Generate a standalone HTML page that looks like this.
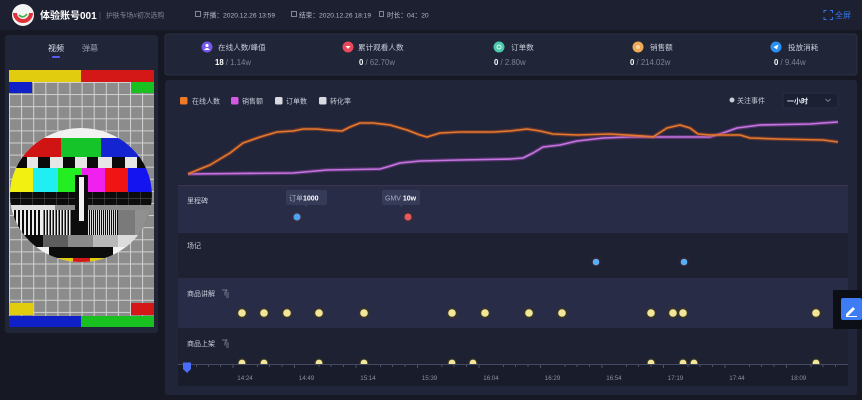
<!DOCTYPE html>
<html><head><meta charset="utf-8">
<style>
html,body{margin:0;padding:0;background:#161924;width:862px;height:400px;overflow:hidden}
svg{display:block}
text{font-family:"Liberation Sans","Noto Sans CJK SC",sans-serif}
</style></head><body>
<svg width="862" height="400" viewBox="0 0 862 400" xmlns="http://www.w3.org/2000/svg">
<defs>
<pattern id="grid" x="9" y="82" width="12.1" height="12.1" patternUnits="userSpaceOnUse">
<rect width="12.1" height="12.1" fill="#8c8c8c"/>
<path d="M0,0.5 H12.1 M0.5,0 V12.1" stroke="#d2d2d2" stroke-width="1"/>
</pattern>
<pattern id="p4" x="0" y="0" width="4" height="4" patternUnits="userSpaceOnUse"><rect width="2" height="4" fill="#eee"/></pattern>
<pattern id="p3" x="0" y="0" width="3" height="4" patternUnits="userSpaceOnUse"><rect width="1.5" height="4" fill="#eee"/></pattern>
<pattern id="p2" x="0" y="0" width="2" height="4" patternUnits="userSpaceOnUse"><rect width="1" height="4" fill="#ddd"/></pattern>
<clipPath id="circ"><ellipse cx="81" cy="195" rx="71" ry="67"/></clipPath>
</defs>

<!-- page bg -->
<rect width="862" height="400" fill="#161924"/>
<!-- header -->
<rect x="0" y="0" width="862" height="30" fill="#1c2030"/>
<circle cx="23" cy="15" r="11" fill="#f4f4f4"/>
<path d="M15,13 A8,8 0 0,0 31,13" stroke="#e0303a" stroke-width="4" fill="none"/>
<path d="M19,15 Q23,19 27,14" stroke="#3cb043" stroke-width="1.6" fill="none"/>
<text x="40" y="19" font-size="10" font-weight="bold" fill="#ffffff">体验账号001</text>
<text x="99" y="18" font-size="8" fill="#5a5f72">|</text>
<text x="106" y="17.5" font-size="6.8" fill="#80859a">护肤专场#初次选购</text>
<rect x="195.5" y="11.5" width="5" height="5" stroke="#9aa0b2" fill="none" stroke-width="0.8"/>
<text x="203" y="17.5" font-size="6.7" fill="#b4b8c8">开播：2020.12.26 13:59</text>
<rect x="291.5" y="11.5" width="5" height="5" stroke="#9aa0b2" fill="none" stroke-width="0.8"/>
<text x="299" y="17.5" font-size="6.7" fill="#b4b8c8">结束：2020.12.26 18:19</text>
<rect x="379.5" y="11.5" width="4" height="5" stroke="#9aa0b2" fill="none" stroke-width="0.8"/>
<text x="387" y="17.5" font-size="6.7" fill="#b4b8c8">时长：04：20</text>
<path d="M824,13 v-2.5 h2.5 M830,10.5 h2.5 v2.5 M832.5,17 v2.5 h-2.5 M826.5,19.5 h-2.5 v-2.5" stroke="#3a78e8" stroke-width="0.9" fill="none"/>
<text x="835" y="18" font-size="8" fill="#3a78e8">全屏</text>

<!-- left panel -->
<rect x="5" y="35" width="153" height="298" rx="3" fill="#212538"/>
<text x="48" y="51" font-size="8" fill="#dfe2ee">视频</text>
<text x="82" y="51" font-size="8" fill="#959aae">弹幕</text>
<rect x="52" y="56" width="8" height="2" rx="1" fill="#5a5cf0"/>

<!-- test card -->
<rect x="9" y="82" width="145" height="234" fill="url(#grid)"/>
<rect x="9" y="70" width="72" height="12" fill="#e2cc10"/>
<rect x="81" y="70" width="73" height="12" fill="#d41818"/>
<rect x="9" y="82" width="23" height="11" fill="#1020c8"/>
<rect x="131" y="82" width="23" height="11" fill="#18c020"/>
<rect x="9" y="303" width="24" height="12" fill="#e2cc10"/>
<rect x="131" y="303" width="23" height="12" fill="#d41818"/>
<rect x="9" y="316" width="72" height="11" fill="#1020c8"/>
<rect x="81" y="316" width="73" height="11" fill="#18c020"/>
<g clip-path="url(#circ)">
<rect x="8" y="126" width="148" height="140" fill="#f2f2f2"/>
<rect x="8" y="138" width="53" height="19" fill="#d01414"/>
<rect x="61" y="138" width="40" height="19" fill="#14c428"/>
<rect x="101" y="138" width="55" height="19" fill="#1424d0"/>
<rect x="8" y="157" width="148" height="11" fill="#0a0a0a"/>
<rect x="27" y="157" width="11" height="11" fill="#e6e6e6"/>
<rect x="50" y="157" width="13" height="11" fill="#e6e6e6"/>
<rect x="75" y="157" width="12" height="11" fill="#e6e6e6"/>
<rect x="98" y="157" width="14" height="11" fill="#e6e6e6"/>
<rect x="125" y="157" width="12" height="11" fill="#e6e6e6"/>
<rect x="8" y="168" width="25" height="24" fill="#f2f010"/>
<rect x="33" y="168" width="25" height="24" fill="#20eef0"/>
<rect x="58" y="168" width="24" height="24" fill="#22ee22"/>
<rect x="82" y="168" width="23" height="24" fill="#f020ee"/>
<rect x="105" y="168" width="23" height="24" fill="#f01414"/>
<rect x="128" y="168" width="28" height="24" fill="#1414f0"/>
<rect x="8" y="192" width="148" height="13" fill="#0c0c0c"/>
<path d="M8,198.5 H156 M20.5,192 V205 M32.5,192 V205 M44.5,192 V205 M56.5,192 V205 M68.5,192 V205 M92.5,192 V205 M104.5,192 V205 M116.5,192 V205 M128.5,192 V205 M140.5,192 V205" stroke="#444" stroke-width="0.7"/>
<rect x="8" y="205" width="148" height="5" fill="#8a8a8a"/>
<rect x="8" y="205" width="47" height="5" fill="#dedede"/>
<rect x="8" y="210" width="148" height="25" fill="#0c0c0c"/>
<rect x="12" y="210" width="30" height="25" fill="url(#p4)"/>
<rect x="42" y="210" width="30" height="25" fill="url(#p3)"/>
<rect x="88" y="210" width="30" height="25" fill="url(#p2)"/>
<rect x="118" y="210" width="17" height="25" fill="#7a7a7a"/>
<rect x="135" y="210" width="21" height="25" fill="#909090"/>
<rect x="8" y="235" width="148" height="12" fill="#f2f2f2"/>
<rect x="8" y="235" width="35" height="12" fill="#0c0c0c"/>
<rect x="43" y="235" width="25" height="12" fill="#5e5e5e"/>
<rect x="68" y="235" width="25" height="12" fill="#8a8a8a"/>
<rect x="93" y="235" width="25" height="12" fill="#b8b8b8"/>
<rect x="118" y="235" width="25" height="12" fill="#dcdcdc"/>
<rect x="49" y="247" width="64" height="11" fill="#0c0c0c"/>
<rect x="48" y="258" width="25" height="12" fill="#e2cc10"/>
<rect x="73" y="258" width="17" height="12" fill="#d41818"/>
<rect x="90" y="258" width="25" height="12" fill="#e2cc10"/>
</g>
<rect x="75" y="175" width="13" height="48" fill="#0c0c0c"/>
<rect x="79" y="177" width="5" height="44" fill="#f2f2f2"/>

<!-- stats card -->
<rect x="165" y="34" width="692" height="41" rx="3" fill="#212538" stroke="#2a2f45" stroke-width="1"/>
<g font-size="7.6" fill="#c8ccd8">
<circle cx="207" cy="47" r="5.5" fill="#7458ee"/>
<circle cx="207" cy="45.5" r="1.6" fill="#fff"/><path d="M204,50 q3,-4 6,0 z" fill="#fff"/>
<text x="218" y="50">在线人数/峰值</text>
<circle cx="348" cy="47" r="5.5" fill="#e8485a"/>
<path d="M345.5,46 h5 l-2.5,3 z" fill="#fff"/>
<text x="358" y="50">累计观看人数</text>
<circle cx="499" cy="47" r="5.5" fill="#4cc9ac"/>
<circle cx="499" cy="47" r="2" fill="none" stroke="#fff" stroke-width="0.8"/>
<text x="511" y="50">订单数</text>
<circle cx="638" cy="47" r="5.5" fill="#f0aa55"/>
<circle cx="638" cy="47" r="2" fill="#f8d8a8"/>
<text x="650" y="50">销售额</text>
<circle cx="776" cy="47" r="5.5" fill="#2a8ff0"/>
<path d="M773.5,47 l5,-2.5 l-1.5,5 z" fill="#fff"/>
<text x="788" y="50">投放消耗</text>
</g>
<g font-size="7.8" fill="#7d8296">
<text x="215" y="65"><tspan font-weight="bold" fill="#ffffff">18</tspan> / 1.14w</text>
<text x="359" y="65"><tspan font-weight="bold" fill="#ffffff">0</tspan> / 62.70w</text>
<text x="494" y="65"><tspan font-weight="bold" fill="#ffffff">0</tspan> / 2.80w</text>
<text x="630" y="65"><tspan font-weight="bold" fill="#ffffff">0</tspan> / 214.02w</text>
<text x="774" y="65"><tspan font-weight="bold" fill="#ffffff">0</tspan> / 9.44w</text>
</g>

<!-- main panel -->
<rect x="165" y="80" width="692" height="315" rx="3" fill="#21253a"/>
<!-- legend -->
<g font-size="7" fill="#c8ccd8">
<rect x="180" y="97" width="7.5" height="7.5" rx="1.5" fill="#ee7a28"/>
<text x="192" y="103.5">在线人数</text>
<rect x="231" y="97" width="7.5" height="7.5" rx="1.5" fill="#d25ae0"/>
<text x="242" y="103.5">销售额</text>
<rect x="275" y="97" width="7.5" height="7.5" rx="1.5" fill="#d8dae2"/>
<text x="286" y="103.5">订单数</text>
<rect x="319" y="97" width="7.5" height="7.5" rx="1.5" fill="#d8dae2"/>
<text x="330" y="103.5">转化率</text>
<circle cx="732" cy="100" r="2.5" fill="#c8ccd8"/>
<text x="737" y="103">关注事件</text>
<rect x="783" y="93" width="55" height="15" rx="2" fill="#1c2033" stroke="#2c3148" stroke-width="0.8"/>
<text x="787" y="103.5" font-weight="bold" fill="#e6e8f0">一小时</text>
<path d="M825.5,99 l2.5,2.5 l2.5,-2.5" stroke="#7d8296" stroke-width="0.9" fill="none"/>
</g>

<!-- lines -->
<polyline fill="none" stroke="#b24fcf" stroke-opacity="0.35" stroke-width="4" stroke-linejoin="round" points="188,174 293,173 327,170 380,169 387,167 400,163 420,161 460,160 510,159 523,158 533,153 543,147 560,145 577,141 603,138 627,137 653,137 710,137 723,133 737,128 760,125 810,124 823,123 838,122"/>
<polyline fill="none" stroke="#c775e0" stroke-width="1.6" stroke-linejoin="round" points="188,174 293,173 327,170 380,169 387,167 400,163 420,161 460,160 510,159 523,158 533,153 543,147 560,145 577,141 603,138 627,137 653,137 710,137 723,133 737,128 760,125 810,124 823,123 838,122"/>
<polyline fill="none" stroke="#a84a20" stroke-opacity="0.45" stroke-width="4" stroke-linejoin="round" points="188,174 200,169 210,165 220,159 230,153 243,143 260,137 277,132 293,131 303,129 317,129 327,130 342,131 350,127 360,123 373,123 390,125 407,130 420,135 427,137 440,133 460,132 493,132 510,131 527,129 540,131 553,134 577,135 610,134 643,136 653,137 667,128 680,125 690,128 698,134 710,135 740,135 750,138 777,139 823,140 838,142"/>
<polyline fill="none" stroke="#e6792f" stroke-width="1.6" stroke-linejoin="round" points="188,174 200,169 210,165 220,159 230,153 243,143 260,137 277,132 293,131 303,129 317,129 327,130 342,131 350,127 360,123 373,123 390,125 407,130 420,135 427,137 440,133 460,132 493,132 510,131 527,129 540,131 553,134 577,135 610,134 643,136 653,137 667,128 680,125 690,128 698,134 710,135 740,135 750,138 777,139 823,140 838,142"/>

<!-- rows -->
<rect x="178" y="185" width="670" height="48" fill="#282c46"/>
<line x1="178" y1="185.5" x2="848" y2="185.5" stroke="#3e3450" stroke-width="1"/>
<rect x="178" y="233" width="670" height="45" fill="#1e2132"/>
<rect x="178" y="278" width="670" height="50" fill="#282c46"/>
<rect x="178" y="328" width="670" height="36" fill="#1e2132"/>

<g font-size="7" fill="#c8ccd8">
<text x="187" y="203">里程碑</text>
<text x="187" y="248">场记</text>
<text x="187" y="296">商品讲解</text>
<text x="187" y="346">商品上架</text>
</g>
<path d="M222,290 h5 l-2,2.5 v3 M226,293 h3 M226,295 h3 M226,297 h3" stroke="#8a8fa3" stroke-width="0.8" fill="none"/>
<path d="M222,340 h5 l-2,2.5 v3 M226,343 h3 M226,345 h3 M226,347 h3" stroke="#8a8fa3" stroke-width="0.8" fill="none"/>

<!-- tooltips -->
<rect x="286" y="190" width="41" height="15" rx="2" fill="#363b58"/>
<path d="M304,205 l2,2.5 l2,-2.5 z" fill="#363b58"/>
<text x="289" y="200.5" font-size="7" fill="#a8adc0">订单<tspan font-weight="bold" fill="#ffffff">1000</tspan></text>
<rect x="382" y="190" width="38" height="15" rx="2" fill="#363b58"/>
<path d="M399,205 l2,2.5 l2,-2.5 z" fill="#363b58"/>
<text x="385" y="200.5" font-size="7" fill="#a8adc0">GMV <tspan font-weight="bold" fill="#ffffff">10w</tspan></text>

<circle cx="297" cy="217" r="5" fill="#4a2a35" opacity="0.7"/>
<circle cx="297" cy="217" r="3.5" fill="#4aa3f0"/>
<circle cx="408" cy="217" r="5" fill="#4a2a35" opacity="0.7"/>
<circle cx="408" cy="217" r="3.5" fill="#e85a5a"/>

<circle cx="596" cy="262" r="5" fill="#3a2530" opacity="0.6"/>
<circle cx="596" cy="262" r="3.3" fill="#5aaef5"/>
<circle cx="684" cy="262" r="5" fill="#3a2530" opacity="0.6"/>
<circle cx="684" cy="262" r="3.3" fill="#5aaef5"/>

<!-- yellow dots row 3 -->
<g>
<g fill="#3a3622"><circle cx="242" cy="313" r="5.2"/><circle cx="264" cy="313" r="5.2"/><circle cx="287" cy="313" r="5.2"/><circle cx="319" cy="313" r="5.2"/><circle cx="364" cy="313" r="5.2"/><circle cx="452" cy="313" r="5.2"/><circle cx="485" cy="313" r="5.2"/><circle cx="529" cy="313" r="5.2"/><circle cx="562" cy="313" r="5.2"/><circle cx="651" cy="313" r="5.2"/><circle cx="673" cy="313" r="5.2"/><circle cx="683" cy="313" r="5.2"/><circle cx="816" cy="313" r="5.2"/></g>
<g fill="#f2e69a"><circle cx="242" cy="313" r="3.8"/><circle cx="264" cy="313" r="3.8"/><circle cx="287" cy="313" r="3.8"/><circle cx="319" cy="313" r="3.8"/><circle cx="364" cy="313" r="3.8"/><circle cx="452" cy="313" r="3.8"/><circle cx="485" cy="313" r="3.8"/><circle cx="529" cy="313" r="3.8"/><circle cx="562" cy="313" r="3.8"/><circle cx="651" cy="313" r="3.8"/><circle cx="673" cy="313" r="3.8"/><circle cx="683" cy="313" r="3.8"/><circle cx="816" cy="313" r="3.8"/></g>
</g>
<!-- row 4 half dots -->
<g fill="#f2e69a" stroke="#3a3622" stroke-width="1.2">
<circle cx="242" cy="363" r="4"/><circle cx="264" cy="363" r="4"/><circle cx="319" cy="363" r="4"/><circle cx="364" cy="363" r="4"/><circle cx="452" cy="363" r="4"/><circle cx="473" cy="363" r="4"/><circle cx="651" cy="363" r="4"/><circle cx="683" cy="363" r="4"/><circle cx="694" cy="363" r="4"/><circle cx="816" cy="363" r="4"/>
</g>

<!-- axis -->
<rect x="178" y="364" width="670" height="22" fill="#191c2a"/>
<line x1="178" y1="364.5" x2="848" y2="364.5" stroke="#454a62" stroke-width="1"/>
<g stroke="#5a5f78" stroke-width="0.8">
<path d="M196.5,365 v2 M208.5,365 v2 M220.5,365 v2 M233,365 v3 M257.5,365 v2 M269.5,365 v2 M282,365 v2 M294.5,365 v3 M319,365 v2 M331,365 v2 M343.5,365 v2 M356,365 v3 M380.5,365 v2 M392.5,365 v2 M405,365 v2 M417.5,365 v3 M442,365 v2 M454,365 v2 M466.5,365 v2 M479,365 v3 M503.5,365 v2 M515.5,365 v2 M528,365 v2 M540.5,365 v3 M565,365 v2 M577,365 v2 M589.5,365 v2 M602,365 v3 M626.5,365 v2 M638.5,365 v2 M651,365 v2 M663.5,365 v3 M688,365 v2 M700,365 v2 M712.5,365 v2 M725,365 v3 M749.5,365 v2 M761.5,365 v2 M774,365 v2 M786.5,365 v3 M811,365 v2 M823,365 v2 M835.5,365 v2"/>
</g>
<g font-size="6.2" fill="#8a8fa3" text-anchor="middle">
<text x="245" y="380">14:24</text>
<text x="306.5" y="380">14:49</text>
<text x="368" y="380">15:14</text>
<text x="429.5" y="380">15:39</text>
<text x="491" y="380">16:04</text>
<text x="552.5" y="380">16:29</text>
<text x="614" y="380">16:54</text>
<text x="675.5" y="380">17:19</text>
<text x="737" y="380">17:44</text>
<text x="798.5" y="380">18:09</text>
</g>
<path d="M183,362.5 h8 v6.5 l-4,4 l-4,-4 z" fill="#4a6cf7"/>

<!-- edit button -->
<rect x="833" y="290" width="29" height="39" fill="#0d0f16"/>
<rect x="841" y="298" width="21" height="22" rx="2" fill="#3d7cf2"/>
<path d="M846,314 l7,-7 l2,2 l-7,7 h-2 z" fill="#ffffff"/>
<line x1="846" y1="316.5" x2="857" y2="316.5" stroke="#ffffff" stroke-width="1"/>
</svg>
</body></html>
